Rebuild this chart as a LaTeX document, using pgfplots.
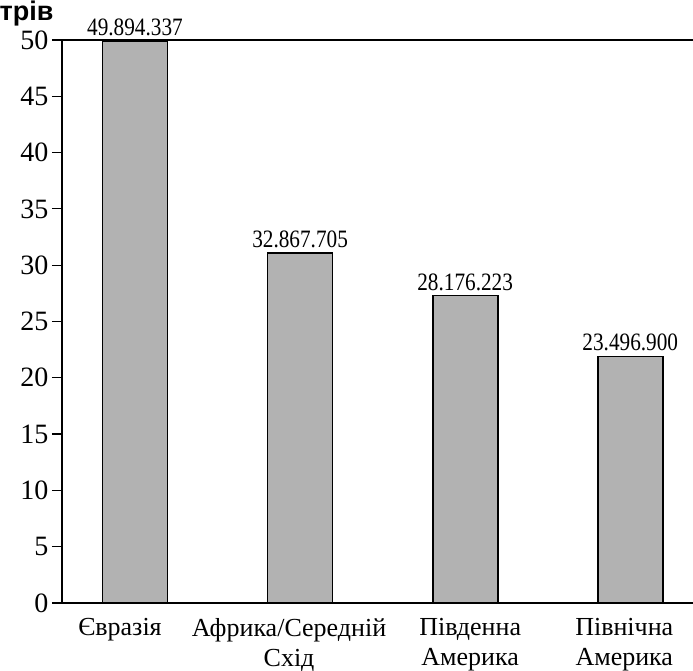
\documentclass[border=0pt]{standalone}
\usepackage{pgfplots}
\pgfplotsset{compat=1.18}
\usepackage{pgfplotstable}
\usepackage{fontspec}
\setmainfont{Liberation Serif}
\newfontfamily\headsans{Liberation Sans}
\newfontfamily\condserif[FakeStretch=0.85]{Liberation Serif}
\usetikzlibrary{calc}
\pgfplotstableread{
x y label
0 49.9 {49.894.337}
1 31.1 {32.867.705}
2 27.3 {28.176.223}
3 21.9 {23.496.900}
}\datatab
\begin{document}
\begin{tikzpicture}
\begin{axis}[
  scale only axis,
  width=631pt, height=563pt,
  xmin=-0.442, xmax=3.38,
  ymin=0, ymax=50,
  axis x line=box, axis y line=left,
  axis line style={-, line width=1.4pt},
  ytick={0,5,...,50},
  xtick={0,1,2,3},
  xticklabels={Євразія\hspace*{30pt},
    {Африка/Середній\hspace*{22pt}\\Схід\hspace*{22pt}},
    {\hspace*{10pt}Південна\\\hspace*{10pt}Америка},
    {Північна\hspace*{12pt}\\Америка\hspace*{12pt}}},
  xticklabel style={align=center, font=\fontsize{26}{30}\selectfont, inner sep=1pt, yshift=-4pt},
  x tick style={draw=none},
  yticklabel style={font=\fontsize{28}{30}\selectfont},
  /pgf/number format/assume math mode=true,
  tick align=outside,
  major tick length=10pt,
  y tick style={line width=1.2pt, black},
  ybar, bar width=65pt,
  nodes near coords,
  point meta=explicit symbolic,
  every node near coord/.append style={font=\condserif\fontsize{25}{28}\selectfont, anchor=south, yshift=1pt},
]
\addplot[draw=black, line width=1.8pt, fill=black!30] table[x=x, y=y, meta=label] {\datatab};
\end{axis}
\node[anchor=base east, font=\headsans\bfseries\fontsize{27}{30}\selectfont] at ($(current axis.north west)+(-5pt,19pt)$) {трів};
\pgfresetboundingbox
\path[use as bounding box] ($(current axis.south west)+(-62pt,-68pt)$) rectangle ($(current axis.north east)+(0pt,40pt)$);
\end{tikzpicture}
\end{document}
